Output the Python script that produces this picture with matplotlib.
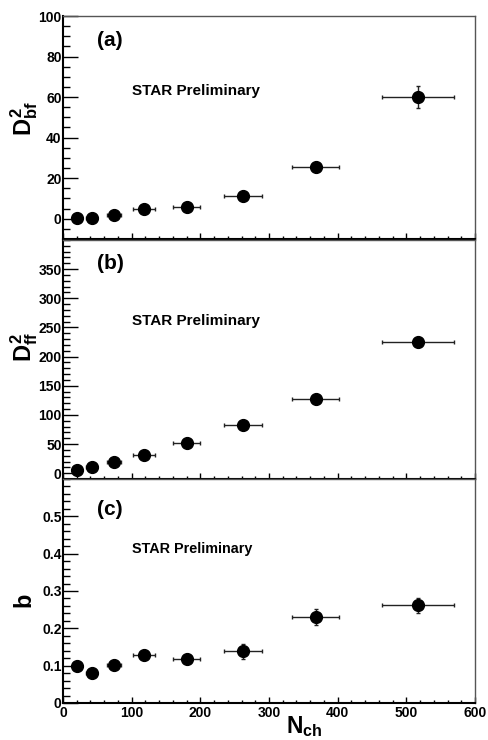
import matplotlib
matplotlib.use('Agg')
import matplotlib.pyplot as plt
from matplotlib.ticker import MultipleLocator, FixedLocator, FuncFormatter

plt.rcParams['font.family'] = ['Liberation Sans', 'DejaVu Sans']
plt.rcParams['font.weight'] = 'bold'
plt.rcParams['mathtext.fontset'] = 'custom'
plt.rcParams['mathtext.rm'] = 'Liberation Sans:bold'
plt.rcParams['mathtext.it'] = 'Liberation Sans:bold'
plt.rcParams['mathtext.bf'] = 'Liberation Sans:bold'

# data
nch = [21, 42, 74, 118, 180, 262, 368, 517]
nch_err = [5, 8, 10, 16, 20, 28, 34, 52]

d2bf = [0.5, 0.5, 2.0, 4.7, 5.7, 11.3, 25.6, 60.0]
d2bf_err = [0.3, 0.3, 0.5, 0.8, 1.0, 1.5, 2.0, 5.5]

d2ff = [5.7, 10.3, 19.4, 32.0, 51.4, 82.8, 127.4, 225.0]
d2ff_err = [1, 1, 2, 2, 3, 3, 4, 5]

b_val = [0.098, 0.080, 0.102, 0.129, 0.117, 0.138, 0.230, 0.262]
b_err = [0.008, 0.008, 0.008, 0.010, 0.010, 0.020, 0.022, 0.020]

panels = [
    dict(y=d2bf, yerr=d2bf_err, ylim=(-10, 100), minor=5, yticks=range(0, 101, 20),
         tag='(a)', tag_y=0.888, star_y=0.662, star_fs=11, label=r'$D^{2}_{bf}$', label_y=119),
    dict(y=d2ff, yerr=d2ff_err, ylim=(-10, 400), minor=10, yticks=range(0, 351, 50),
         tag='(b)', tag_y=0.902, star_y=0.661, star_fs=11, label=r'$D^{2}_{ff}$', label_y=347),
    dict(y=b_val, yerr=b_err, ylim=(0, 0.6), minor=0.02, yticks=[0, 0.1, 0.2, 0.3, 0.4, 0.5],
         tag='(c)', tag_y=0.862, star_y=0.6875, star_fs=10.4, label='b', label_y=600),
]

W, H = 488, 740
fig = plt.figure(figsize=(W / 100, H / 100), dpi=100)

left, right = 63, 475
boxes = [(16, 239), (240, 479), (479, 703)]

for i, (p, (top, bot)) in enumerate(zip(panels, boxes)):
    ax = fig.add_axes([left / W, 1 - bot / H, (right - left) / W, (bot - top) / H])
    ax.errorbar(nch, p['y'], xerr=nch_err, yerr=p['yerr'], fmt='o', color='black',
                ecolor='#222222', elinewidth=1.0, capsize=1.6, capthick=1.0,
                markersize=8.5, zorder=3)
    ax.set_xlim(0, 600)
    ax.set_ylim(*p['ylim'])

    ax.yaxis.set_major_locator(FixedLocator(list(p['yticks'])))
    ax.yaxis.set_minor_locator(MultipleLocator(p['minor']))
    ax.xaxis.set_major_locator(MultipleLocator(100))
    ax.xaxis.set_minor_locator(MultipleLocator(20))

    ax.tick_params(axis='y', which='major', direction='in', length=11, width=1, pad=1,
                   labelsize=10)
    ax.tick_params(axis='y', which='minor', direction='in', length=5, width=1)
    ax.tick_params(axis='x', which='major', direction='in', length=4.3, width=1, pad=2.5,
                   labelsize=10)
    ax.tick_params(axis='x', which='minor', direction='in', length=2.2, width=1)
    for lab in ax.get_yticklabels() + ax.get_xticklabels():
        lab.set_fontweight('bold')

    if i < 2:
        ax.tick_params(axis='x', labelbottom=False)
        ax.yaxis.set_major_formatter(FuncFormatter(lambda v, pos: f'{v:.0f}'))
    else:
        ax.yaxis.set_major_formatter(
            FuncFormatter(lambda v, pos: '0' if abs(v) < 1e-9 else f'{v:.1f}'))
        ax.xaxis.set_major_formatter(FuncFormatter(lambda v, pos: f'{v:.0f}'))

    for side in ['top', 'right']:
        ax.spines[side].set_color('#555555')
        ax.spines[side].set_linewidth(1.0)
    for side in ['left', 'bottom']:
        ax.spines[side].set_color('black')
        ax.spines[side].set_linewidth(1.5)

    ax.text(0.082, p['tag_y'], p['tag'], transform=ax.transAxes, fontsize=15,
            fontweight='bold', ha='left', va='center')
    ax.text(0.167, p['star_y'], 'STAR Preliminary', transform=ax.transAxes,
            fontsize=p['star_fs'], fontweight='bold', ha='left', va='center')

    fig.text(24 / W, 1 - p['label_y'] / H, p['label'], rotation=90, fontsize=17,
             fontweight='bold', ha='center', va='center')

fig.text(286 / W, 1 - 714 / H, r'$N_{ch}$', fontsize=16.5, fontweight='bold',
         ha='left', va='top')

fig.savefig('out.png', dpi=100)
